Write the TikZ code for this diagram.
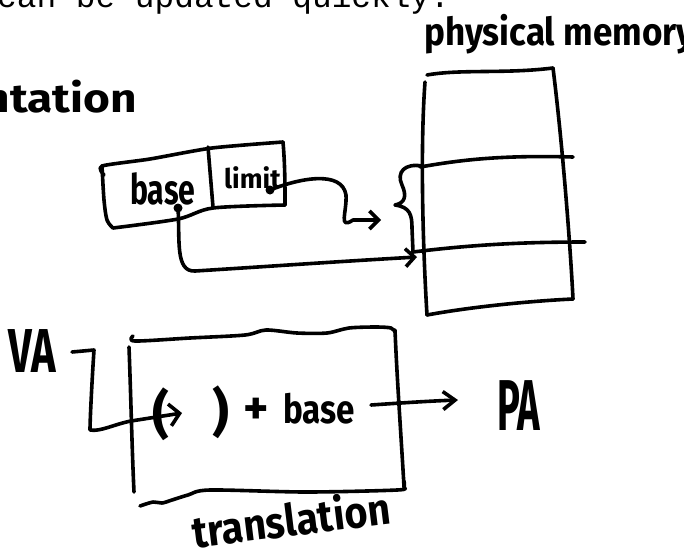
\documentclass[tikz,border=0pt]{standalone}
\usepackage{fontspec}
\setmainfont{Fira Sans}
\newfontfamily\handfont{Fira Sans}
\newfontfamily\notefont{Liberation Mono}
\usetikzlibrary{arrows.meta}

\begin{document}
\begin{tikzpicture}[x=1pt,y=-1pt,
  pen/.style={line width=3.6pt,line cap=round,line join=round},
  hand/.style={inner sep=0pt,font=\handfont\bfseries\fontsize{#1}{#1}\selectfont},
  barb/.style={-{Straight Barb[length=#1,width=18pt]}},
  widebarb/.style={-{Straight Barb[length=10pt,width=22pt]}},
  dotmark/.style={fill=black}]

\useasboundingbox (0,0) rectangle (684,555);

% ---- running text and handwritten labels ----
\node[anchor=base west,inner sep=0pt,font=\notefont\fontsize{32.8}{40}\selectfont]
  (note) at (-3,7) {can be updated quickly.};
\node[hand=40,anchor=base east] (seg) at (137,112) {\scalebox{1.15}[1]{segmentation}};
\node[hand=35,anchor=base west] (phys) at (424,45) {\scalebox{1}[1.1]{physical memory}};

% ---- segment register: base | limit ----
\draw[pen] plot[smooth,tension=0.4] coordinates {(104,175)(102,166)(150,159)(212,148)(283,142)};
\draw[pen] (283,142) .. controls (285,165) and (285,185) .. (285,205);
\draw[pen] plot[smooth,tension=0.5] coordinates {(102,166)(104,200)(107,220)(113,228)};
\draw[pen] plot[smooth,tension=0.5] coordinates {(113,228)(178,219)(213,208)(285,205)};
\draw[pen] (208,147) -- (213,207);
\node[hand=42,anchor=base west] (base) at (130,204) {\scalebox{0.72}[1]{base}};
\node[hand=27,anchor=base west] (limit) at (224,188) {limit};

\coordinate (limdot) at (270,190);
\coordinate (basedot) at (178,208);
\coordinate (limtip) at (381,220);
\coordinate (basetip) at (417,257);
\fill[dotmark] (limdot) circle[radius=4.5pt];
\fill[dotmark] (basedot) circle[radius=4.5pt];

% ---- physical memory column ----
\draw[pen] (427,75) .. controls (460,69) and (505,74) .. (553,68);
\draw[pen] (425,82) .. controls (420,150) and (423,250) .. (427,315);
\draw[pen] (553,68) .. controls (562,140) and (570,240) .. (573,299);
\draw[pen] (427,315) .. controls (470,307) and (530,301) .. (573,299);
\draw[pen] (420,167) .. controls (460,160) and (500,155) .. (573,157);
\draw[pen] (413,252) .. controls (470,245) and (520,242) .. (585,242);

% brace marking one segment
\coordinate (bracetip) at (395,205);
\draw[pen] (422,166) .. controls (405,163) and (396,172) .. (402,185)
  .. controls (407,196) and (405,203) .. (bracetip)
  .. controls (410,207) and (412,215) .. (412,228) -- (413,252);

% limit -> size of the segment, base -> start of the segment
\draw[pen,barb=9pt] (limdot) .. controls (300,178) and (342,170) .. (346,195)
  .. controls (347,212) and (338,230) .. (353,220) -- (limtip);
\draw[pen,barb=9pt] (basedot) .. controls (180,240) and (175,272) .. (195,271)
  .. controls (260,267) and (330,262) .. (basetip);

% ---- translation unit ----
\draw[pen] plot[smooth,tension=0.5] coordinates {(133,336)(135,341)(190,338)(245,335)(266,330)(297,333)(327,333)(349,328)(376,327)(391,328)(395,332)};
\draw[pen] (395,330) .. controls (397,380) and (402,450) .. (404,487);
\draw[pen] plot[smooth,tension=0.5] coordinates {(404,481)(404,487)(397,490)(306,492)(210,490)(188,495)(172,500)(162,503)(153,502)(140,506)};
\draw[pen] (129,347) .. controls (131,400) and (132,450) .. (134,492);
\node[hand=44,anchor=base,rotate=7] (trans) at (293,536) {\scalebox{0.9}[1]{translation}};

\node[hand=62,anchor=base west] (VA) at (8,372) {\scalebox{0.67}[1]{VA}};
\node[hand=72,anchor=base west] (PA) at (497,430) {\scalebox{0.53}[1]{PA}};
\node[hand=52,anchor=base west] (lpar) at (152,432) {(};
\node[hand=52,anchor=base west] (rpar) at (212,430) {)};
\node[hand=48,anchor=base west] (plus) at (243,424) {+};
\node[hand=40,anchor=base west] (base2) at (283,423) {\scalebox{0.83}[1]{base}};

\coordinate (vaout) at (72,352);
\coordinate (vatip) at (182,413);
\coordinate (paout) at (371,405);
\coordinate (patip) at (458,400);
\draw[pen,widebarb] (vaout) -- (94,350) .. controls (92,380) and (90,420) .. (90,430)
  .. controls (100,432) and (115,424) .. (131,421) -- (vatip);
\draw[pen,barb=12pt] (paout) .. controls (400,403) and (430,401) .. (patip);

\end{tikzpicture}
\end{document}
